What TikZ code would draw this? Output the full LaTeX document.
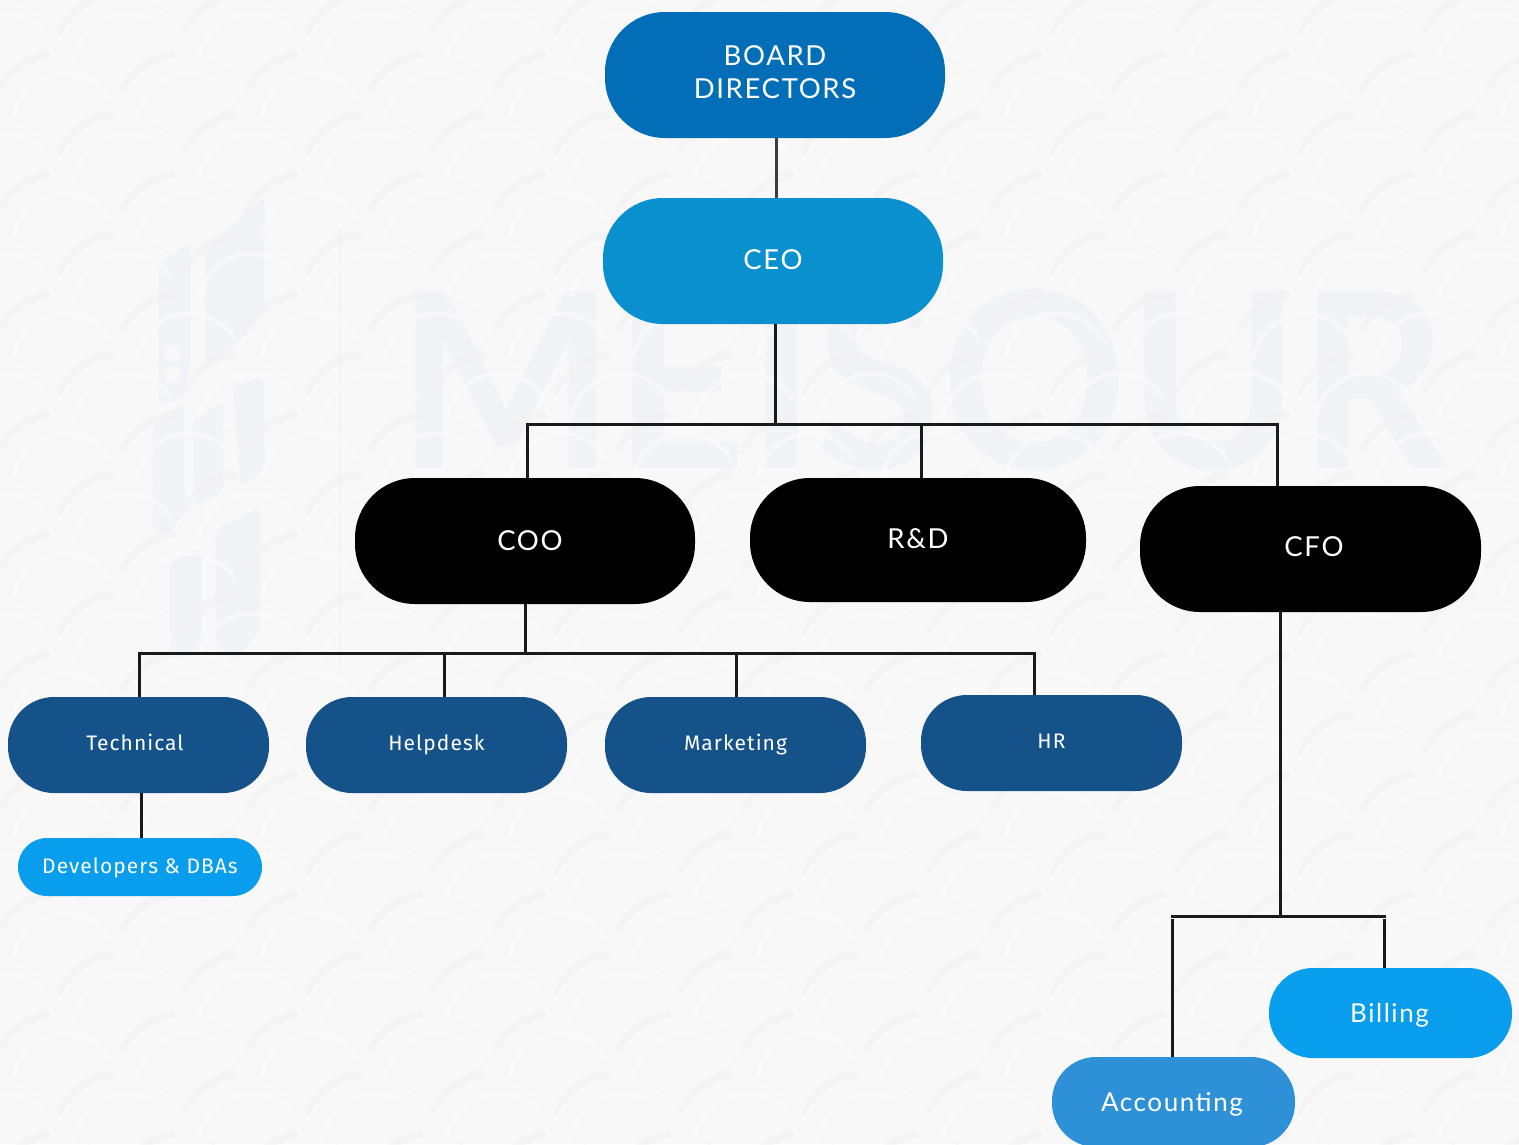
\documentclass[tikz,border=0pt]{standalone}
\usepackage{fontspec}
\setmainfont{Lato}
\newfontfamily\spaced[LetterSpace=6]{Lato}
\newfontfamily\spacedsm[LetterSpace=5]{Fira Sans}
\usetikzlibrary{calc}
\definecolor{paper}{HTML}{F9F8F9}
\definecolor{scaledark}{HTML}{F3F2F3}
\definecolor{scalelight}{HTML}{FDFCFD}
\definecolor{markgrey}{HTML}{F2F3F6}
\definecolor{boardblue}{HTML}{036EB8}
\definecolor{ceoblue}{HTML}{0A90CF}
\definecolor{deptblue}{HTML}{15528A}
\definecolor{skyblue}{HTML}{089EED}
\definecolor{acctblue}{HTML}{2E91D8}
\definecolor{wirecol}{HTML}{1A1A1A}
\tikzset{
  pill/.style={rectangle,rounded corners=#1,inner sep=0pt,text=white,align=center},
  big/.style={pill=60pt,minimum width=340pt,minimum height=126pt,font=\spaced\fontsize{27.5}{33}\selectfont},
  dept/.style={pill=46pt,minimum width=261pt,minimum height=96pt,fill=deptblue,font=\spacedsm\fontsize{21}{25}\selectfont},
  leaf/.style={pill=44pt,minimum width=243pt,minimum height=90pt,font=\spaced\fontsize{26}{30}\selectfont},
  wire/.style={draw=wirecol,line width=3pt}
}
\begin{document}
\begin{tikzpicture}[x=1pt,y=-1pt]
\useasboundingbox (0,0) rectangle (1519,1144);
\fill[paper] (0,0) rectangle (1519,1144);
% Faint mark behind the chart
\node[text=markgrey,font=\bfseries\fontsize{245}{245}\selectfont,inner sep=0pt] (mark) at (922,380) {\scalebox{.94}[1]{MEISOUR}};
\fill[markgrey,rounded corners=8pt] (158,265) -- (190,240) -- (190,365) -- (183,400) -- (158,405) -- cycle;
\fill[markgrey,rounded corners=8pt] (205,250) -- (265,195) -- (265,310) -- (245,335) -- (205,370) -- cycle;
\fill[markgrey,rounded corners=8pt] (153,425) -- (185,400) -- (185,510) -- (170,533) -- (153,533) -- cycle;
\fill[markgrey,rounded corners=8pt] (193,420) -- (223,400) -- (223,490) -- (195,510) -- cycle;
\fill[markgrey,rounded corners=8pt] (233,385) -- (265,377) -- (265,470) -- (240,487) -- cycle;
\fill[markgrey,rounded corners=8pt] (170,560) -- (202,547) -- (202,640) -- (185,660) -- (170,650) -- cycle;
\fill[markgrey,rounded corners=8pt] (215,530) -- (260,507) -- (260,630) -- (235,663) -- (215,640) -- cycle;
\fill[paper] (173,353) circle (9pt) (173,375) circle (9pt);
\fill[markgrey] (339,230) rectangle (341,670);
% Scales of the paper
\foreach \row in {0,...,20}{
  \foreach \col in {-2,...,12}{
    \pgfmathsetmacro{\px}{73+\col*124+mod(\row+1,2)*62}
    \pgfmathsetmacro{\py}{\row*60-2}
    \begin{scope}[shift={(\px,\py)}]
    \draw[scalelight,line width=4pt,opacity=.55] (2,0) .. controls (12,-50) and (75,-60) .. (100,-18);
    \fill[scaledark,opacity=.5] (46,34) .. controls (54,12) and (75,-4) .. (100,-8) -- (104,0)
      .. controls (82,2) and (62,14) .. (50,36) -- cycle;
    \draw[scaledark,line width=1pt,opacity=.5] (4,0) -- (33,15);
    \end{scope}
  }
}
% Top of the chart
\node[big,fill=boardblue] (board) at (775,75) {BOARD\\\raisebox{0pt}[\height][\dimexpr\depth+6pt]{DIRECTORS}};
\node[big,fill=ceoblue] (ceo) at (773,261) {\raisebox{0pt}[\height][\dimexpr\depth+2pt]{CEO}};
% Second row
\node[big,fill=black] (coo) at (525,541) {\hspace*{10pt}COO};
\node[big,fill=black,minimum width=336pt,minimum height=124pt] (rnd) at (918,540) {\raisebox{0pt}[\height][\dimexpr\depth+2pt]{R\&D}};
\node[big,fill=black,minimum width=341pt] (cfo) at (1310.5,549) {\hspace*{7pt}\raisebox{0pt}[\height][\dimexpr\depth+4pt]{CFO}};
% Departments
\node[dept] (tech) at (138.5,745) {\raisebox{0pt}[\height][\dimexpr\depth+6pt]{Technical}\hspace*{7pt}};
\node[dept] (help) at (436.5,745) {Helpdesk};
\node[dept] (mkt) at (735.5,745) {Marketing};
\node[dept] (hr) at (1051.5,743) {\raisebox{0pt}[\height][\dimexpr\depth+4pt]{HR}};
\node[dept,fill=skyblue,pill=29pt,minimum width=244pt,minimum height=58pt] (dev) at (140,867) {\raisebox{0pt}[\dimexpr\height+2pt][\depth]{Developers \& DBAs}};
\node[leaf,fill=skyblue] (bill) at (1390.5,1013) {\raisebox{0pt}[\dimexpr\height+4pt][\depth]{Billing}\hspace*{2pt}};
\node[leaf,fill=acctblue] (acct) at (1173.5,1102) {\raisebox{0pt}[\dimexpr\height+4pt][\depth]{Accounting}\hspace*{3pt}};
% Joints of the lines
\coordinate (topjoint) at (776,168);
\coordinate (busa) at (775,424);
\coordinate (busb) at (525.5,653);
\coordinate (busc) at (1280,916);
\coordinate (devjoint) at (141.5,816);
\coordinate (acctdrop) at (1172.5,919);
\coordinate (billdrop) at (1384,919);
\draw[wire,draw=wirecol!85!white] (topjoint |- board.south) -- (topjoint |- ceo.north);
\draw[wire] (busa |- ceo.south) -- (busa);
\draw[wire] (527.5,478) -- (527.5,424) -- (1277,424) -- (1277,486);
\draw[wire] (921,424) -- (921,478);
\draw[wire] (busb |- coo.south) -- (busb);
\draw[wire] (139.5,697) -- (139.5,653) -- (1034,653) -- (1034,695);
\draw[wire] (444,653) -- (444,697);
\draw[wire] (736,653) -- (736,697);
\draw[wire] (devjoint |- tech.south) -- (devjoint |- dev.north);
\draw[wire] (busc |- cfo.south) -- (busc);
\draw[wire] (1171,916) -- (1386,916);
\draw[wire] (acctdrop) -- (acctdrop |- acct.north);
\draw[wire] (billdrop) -- (billdrop |- bill.north);
\end{tikzpicture}
\end{document}
